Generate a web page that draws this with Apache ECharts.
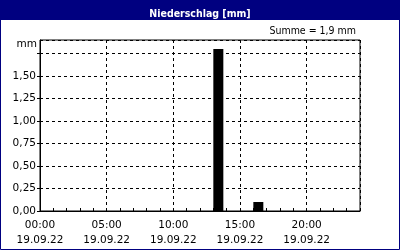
<!DOCTYPE html>
<html>
<head>
<meta charset="utf-8">
<script src="https://cdn.jsdelivr.net/npm/echarts@6/dist/echarts.min.js"></script>
<style>html,body{margin:0;padding:0;background:#fff}#c{width:400px;height:250px}</style>
</head>
<body>
<div id="c"></div>
<script>
// Data
var title = 'Niederschlag [mm]';
var sumText = 'Summe = 1,9 mm';
var unitLabel = 'mm';
var dateLabel = '19.09.22';
var barStartHours = [13, 16];
var precipitation = [1.8, 0.1];
var barDurationHours = 0.75;

var FONT = 'DejaVu Sans';
var navy = '#000080';
var chart = echarts.init(document.getElementById('c'), null, {renderer: 'canvas'});

function pad(n){ return (n < 10 ? '0' : '') + n; }
var seriesData = barStartHours.map(function(h, i){ return [h, precipitation[i]]; });

chart.setOption({
  animation: false,
  backgroundColor: '#fff',
  title: {
    text: title, left: 'center', top: 4,
    textStyle: {color: '#fff', fontFamily: 'DejaVu Sans Condensed', fontSize: 10.5, fontWeight: 'bold'}
  },
  graphic: [
    {type: 'rect', z: -1, shape: {x: 0, y: 0, width: 400, height: 20}, style: {fill: navy}},
    {type: 'rect', z: -1, shape: {x: 0.5, y: 0.5, width: 399, height: 249}, style: {fill: null, stroke: navy, lineWidth: 1}},
    {type: 'text', x: 356, y: 26, style: {text: sumText, fill: '#000', font: '10.5px "DejaVu Sans Condensed"', textAlign: 'right', textVerticalAlign: 'top'}},
    {type: 'text', x: 37, y: 39, style: {text: unitLabel, fill: '#000', font: '10.5px "DejaVu Sans"', textAlign: 'right', textVerticalAlign: 'top'}}
  ],
  grid: {left: 40, top: 40, right: 40, bottom: 39, show: true, borderColor: '#000', borderWidth: 1, backgroundColor: 'transparent'},
  xAxis: [{
    type: 'value', min: 0, max: 24, interval: 5,
    axisLine: {show: true, lineStyle: {color: '#000'}},
    axisTick: {show: false},
    splitLine: {show: true, lineStyle: {color: '#000', type: [3, 3], width: 1}},
    axisLabel: {
      showMaxLabel: false, margin: 7, color: '#000', fontFamily: FONT, fontSize: 10.5, lineHeight: 15,
      formatter: function(v){ return pad(v) + ':00\n' + dateLabel; }
    }
  }, {
    type: 'value', min: 0, max: 24, interval: 1, position: 'bottom',
    axisLine: {show: false},
    axisTick: {show: true, inside: true, length: 3, lineStyle: {color: '#000'}},
    axisLabel: {show: false},
    splitLine: {show: false}
  }],
  yAxis: {
    type: 'value', min: 0, max: 1.9, interval: 0.25,
    axisLine: {show: true, lineStyle: {color: '#000'}},
    axisTick: {show: true, length: 3, lineStyle: {color: '#000'}},
    splitLine: {show: true, lineStyle: {color: '#000', type: [3, 3], width: 1}},
    axisLabel: {
      showMaxLabel: false, margin: 4, color: '#000', fontFamily: FONT, fontSize: 10.5,
      formatter: function(v){ return v > 1.6 ? '' : v.toFixed(2).replace('.', ','); }
    }
  },
  series: [{
    type: 'custom',
    xAxisIndex: 0,
    data: seriesData,
    renderItem: function(params, api){
      var p0 = api.coord([api.value(0), 0]);
      var p1 = api.coord([api.value(0) + barDurationHours, api.value(1)]);
      return {type: 'rect', shape: {x: p0[0], y: p1[1], width: p1[0] - p0[0], height: p0[1] - p1[1]}, style: {fill: '#000'}};
    }
  }]
});
</script>
</body>
</html>
